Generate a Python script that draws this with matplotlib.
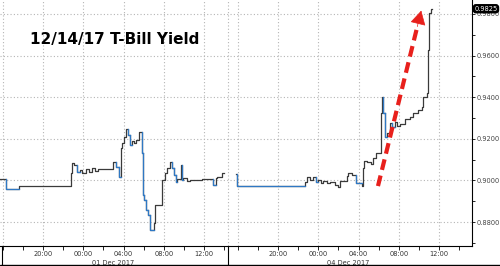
import matplotlib
matplotlib.use("Agg")
import matplotlib.pyplot as plt
import matplotlib.transforms as mtransforms
from matplotlib import font_manager
from matplotlib.ticker import MultipleLocator, FormatStrFormatter

# session 1: 30 Nov 16:00 -> 01 Dec ; session 2: 03 Dec 16:00 -> 04 Dec
left_times = ["15:43", "16:19", "17:35", "22:47", "22:55", "23:05", "23:20", "23:40",
              "23:55", "00:15", "00:35", "00:50", "01:10", "01:30", "01:52", "02:57",
              "03:15", "03:30", "03:42", "03:51", "04:00", "04:15", "04:24", "04:40",
              "04:50", "05:05", "05:15", "05:32", "05:50", "05:56", "06:04", "06:15",
              "06:26", "06:38", "07:02", "07:08", "07:50", "08:07", "08:20", "08:35",
              "08:48", "09:00", "09:10", "09:20", "09:40", "09:46", "09:55", "10:20",
              "10:35", "11:50", "12:54", "13:12", "13:20", "13:48", "14:00"]
left_yield = [0.9008, 0.8960, 0.8973, 0.9035, 0.9084, 0.9072, 0.9040, 0.9050,
              0.9035, 0.9055, 0.9040, 0.9060, 0.9045, 0.9055, 0.9055, 0.9090,
              0.9066, 0.9018, 0.9154, 0.9180, 0.9210, 0.9246, 0.9218, 0.9170,
              0.9190, 0.9180, 0.9195, 0.9234, 0.9130, 0.8931, 0.8906, 0.8860,
              0.8835, 0.8763, 0.8795, 0.8883, 0.9003, 0.9034, 0.9060, 0.9090,
              0.9058, 0.9026, 0.8994, 0.9005, 0.9074, 0.9002, 0.9010, 0.8995,
              0.9002, 0.9005, 0.8978, 0.9010, 0.9018, 0.9034, 0.9034]

right_times = ["15:49", "15:55", "22:41", "22:50", "23:08", "23:28", "23:45", "00:00",
               "00:15", "00:30", "00:50", "01:10", "01:40", "01:58", "02:10", "02:51",
               "02:57", "03:21", "03:45", "04:21", "04:27", "04:35", "04:50", "05:15",
               "05:26", "05:44", "06:14", "06:20", "06:28", "06:35", "06:50", "07:08",
               "07:20", "07:38", "07:50", "08:08", "08:38", "09:08", "09:26", "09:56",
               "10:20", "10:26", "10:50", "10:56", "11:02", "11:12", "11:20"]
right_yield = [0.9030, 0.8973, 0.8994, 0.9018, 0.9002, 0.9018, 0.8994, 0.9000,
               0.8990, 0.8998, 0.8988, 0.8994, 0.8978, 0.8970, 0.8996, 0.9020,
               0.9035, 0.9025, 0.8990, 0.8973, 0.9060, 0.9092, 0.9090, 0.9080,
               0.9107, 0.9132, 0.9326, 0.9400, 0.9326, 0.9211, 0.9230, 0.9278,
               0.9255, 0.9280, 0.9260, 0.9270, 0.9293, 0.9307, 0.9326, 0.9340,
               0.9355, 0.9403, 0.9420, 0.9628, 0.9806, 0.9825, 0.9825]

tick_hours = [20, 0, 4, 8, 12]
tick_labels = ["20:00", "00:00", "04:00", "08:00", "12:00"]
date_labels = ["01 Dec 2017", "04 Dec 2017"]
title = "12/14/17 T-Bill Yield"
last_label = "0.9825"
arrow_from = ("05:56", 0.8973)   # right session
arrow_to = ("10:18", 0.9829)

LEFT_OFFSET = 0.0
RIGHT_OFFSET = 23.36
SPLIT = 22.39

names = {f.name for f in font_manager.fontManager.ttflist}
if "Liberation Sans Narrow" in names:
    SMALL = dict(family="Liberation Sans Narrow", size=6.2)
else:
    SMALL = dict(family="DejaVu Sans", size=4.8)


def to_x(t, offset):
    h, m = map(int, t.split(":"))
    hrs = h + m / 60.0
    if hrs < 15:
        hrs += 24
    return hrs - 16 + offset


BLUE = "#2f78c4"
GREY = "#3a3a3a"


def draw_session(ax, times, vals, offset):
    xs = [to_x(t, offset) for t in times]
    ax.step(xs, vals, where="post", color=GREY, lw=0.9, zorder=3)
    for i in range(1, len(xs)):
        if vals[i] < vals[i - 1] - 0.002:
            x_end = xs[i + 1] if i + 1 < len(xs) else xs[i]
            ax.plot([xs[i], xs[i], x_end], [vals[i - 1], vals[i], vals[i]],
                    color=BLUE, lw=0.9, zorder=4)
    return xs


fig = plt.figure(figsize=(5, 2.66), dpi=100)
ax = fig.add_axes([0, 20 / 266, 472 / 500, 246 / 266])

draw_session(ax, left_times, left_yield, LEFT_OFFSET)
draw_session(ax, right_times, right_yield, RIGHT_OFFSET)

ax.set_xlim(-0.28, 46.64)
ax.set_ylim(0.8685, 0.9867)

# grid
grid_kw = dict(color="#b5b5b5", lw=0.8, ls=(0, (1, 2)), zorder=1)
for off in (LEFT_OFFSET, RIGHT_OFFSET):
    for k in range(6):
        ax.axvline(off + 4 * k, **grid_kw)
ax.axvline(SPLIT, **grid_kw)
for v in [0.88, 0.90, 0.92, 0.94, 0.96, 0.98]:
    ax.axhline(v, **grid_kw)

# x ticks
major, labels, minor = [], [], []
for off in (LEFT_OFFSET, RIGHT_OFFSET):
    for h, lab in zip(tick_hours, tick_labels):
        major.append(to_x("%02d:00" % h, off))
        labels.append(lab)
    for k in range(12):
        minor.append(off + 2 * k)
ax.set_xticks(major)
ax.set_xticklabels(labels)
ax.set_xticks(minor, minor=True)
ax.tick_params(axis="x", which="both", direction="out", length=3, width=0.6,
               labelsize=SMALL["size"], labelcolor="#333333", pad=0.5)

# y ticks on right
ax.yaxis.tick_right()
ax.yaxis.set_major_locator(MultipleLocator(0.02))
ax.yaxis.set_minor_locator(MultipleLocator(0.01))
ax.yaxis.set_major_formatter(FormatStrFormatter("%.4f"))
ax.tick_params(axis="y", which="both", direction="out", length=2.5, width=0.6,
               labelsize=SMALL["size"], labelcolor="#444444", pad=1.0)
for lab in ax.get_xticklabels() + ax.get_yticklabels():
    lab.set_family(SMALL["family"])

for s in ("top", "left"):
    ax.spines[s].set_visible(False)
for s in ("bottom", "right"):
    ax.spines[s].set_linewidth(0.8)
    ax.spines[s].set_color("black")

# session separators below the axis
trans = mtransforms.blended_transform_factory(ax.transData, ax.transAxes)
for xv in (-0.1, SPLIT):
    ax.plot([xv, xv], [0, -0.09], color="black", lw=0.8, transform=trans, clip_on=False)

# date labels
for off, lab in zip((LEFT_OFFSET, RIGHT_OFFSET), date_labels):
    ax.text(off + 11.0, -0.057, lab, transform=trans, ha="center", va="top",
            fontsize=SMALL["size"], color="#333333", family=SMALL["family"])

# title
ax.text(0.23, 0.85, title, transform=fig.transFigure, ha="center", va="center",
        fontsize=11, fontweight="bold", color="black", family="DejaVu Sans")

# last value box
ax.annotate(last_label, xy=(1.0, right_yield[-1]), xycoords=("axes fraction", "data"),
            xytext=(10, 0), textcoords="offset points", ha="center", va="center",
            fontsize=SMALL["size"], color="white", family=SMALL["family"],
            annotation_clip=False, zorder=8,
            bbox=dict(boxstyle="round,pad=0.15,rounding_size=0.4", fc="black", ec="black"))

# red dashed arrow
x0 = to_x(arrow_from[0], RIGHT_OFFSET)
x1 = to_x(arrow_to[0], RIGHT_OFFSET)
y0, y1 = arrow_from[1], arrow_to[1]
f = 0.9
ax.plot([x0, x0 + f * (x1 - x0)], [y0, y0 + f * (y1 - y0)], color="#e8201c", lw=3,
        ls=(0, (2.6, 1.4)), zorder=5, solid_capstyle="butt", dash_capstyle="butt")
ax.annotate("", xy=(x1, y1), xytext=(x0 + 0.88 * (x1 - x0), y0 + 0.88 * (y1 - y0)),
            arrowprops=dict(arrowstyle="-|>,head_length=0.9,head_width=0.5",
                            color="#e8201c", lw=0.5, mutation_scale=10), zorder=6)

# bottom border
fig.patches.append(plt.Rectangle((0, 0), 1, 1.5 / 266, transform=fig.transFigure,
                                 color="black", zorder=10))

fig.savefig("out.png", dpi=100)
